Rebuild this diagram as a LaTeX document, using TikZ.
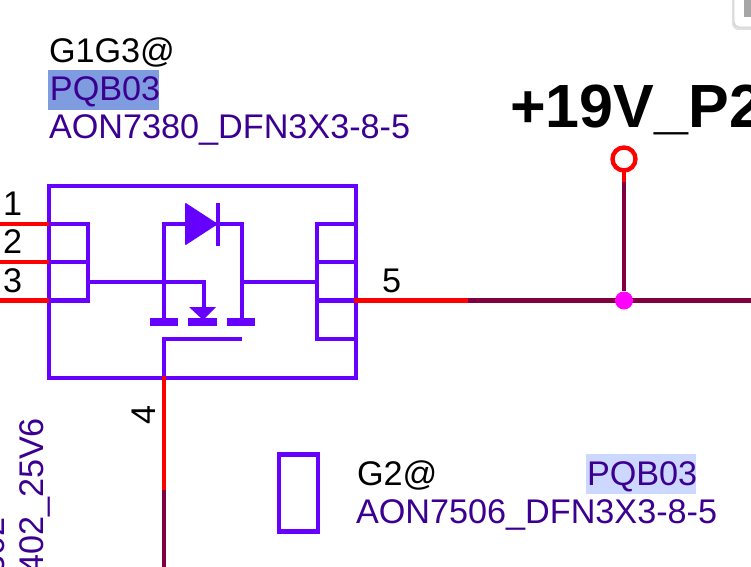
\documentclass[tikz,border=0pt]{standalone}
\usepackage{fontspec}
\setmainfont{Liberation Sans}
\definecolor{symbolblue}{HTML}{6600FF}
\definecolor{partblue}{HTML}{3C0090}
\definecolor{netmaroon}{HTML}{800040}
\definecolor{joinpink}{HTML}{FF00FF}
\definecolor{markdark}{HTML}{7F9CE0}
\definecolor{marklight}{HTML}{CCD8FF}
\begin{document}
\begin{tikzpicture}[
		x=0.75pt,
		y=-0.75pt,
		symbol/.style={
			draw=symbolblue,
			line width=3.3pt,
			line cap=butt
		},
		bar/.style={
			symbol,
			line width=6pt
		},
		pinwire/.style={
			draw=red,
			line width=3.3pt
		},
		netwire/.style={
			draw=netmaroon,
			line width=3.3pt
		},
		attrib/.style={
			anchor=base west,
			inner sep=0pt,
			outer sep=0pt,
			font=\fontsize{25.65}{30}\selectfont
		},
		partval/.style={
			attrib,
			text=partblue
		},
		pinnum/.style={
			attrib,
			text=black
		},
		markbox/.style={
			rectangle,
			inner sep=0pt,
			outer sep=0pt
		}
		]
		\path [use as bounding box, clip] (0,0) rectangle (751,567);
		\fill [white] (0,0) rectangle (751,567);
		
		% corner of the window control
		\fill [black!12, rounded corners=5pt] (732,-10) rectangle (760,30);
		\filldraw [draw=black!18, fill=white, line width=0.6pt, rounded corners=4pt] (734,-10) rectangle (760,27);
		\fill [black!35] (744,-5) rectangle (760,17);
		
		% part box and the pin coordinates
		\node [symbol, rectangle, inner sep=0pt, outer sep=0pt, minimum width=230.25pt, minimum height=144pt] (pqbbox) at (202.5,282) {};
		
		\coordinate (pin1in) at (49,224);
		\coordinate (pin2in) at (49,262);
		\coordinate (pin3in) at (49,300.5);
		\coordinate (pin1end) at (0,224);
		\coordinate (pin2end) at (0,262);
		\coordinate (pin3end) at (0,300.5);
		\coordinate (pin4in) at (164,376);
		\coordinate (pin4mid) at (164,490);
		\coordinate (pin4end) at (164,567);
		\coordinate (pin5in) at (354,300.5);
		\coordinate (pin5mid) at (468,300.5);
		\coordinate (netend) at (751,300.5);
		
		% left comb
		\draw [symbol] (pin1in) -- (88,224) -- (88,300.5) -- (pin3in);
		\draw [symbol] (pin2in) -- (88,262);
		\draw [symbol] (88,282) -- (204,282) -- (204,309);
		
		% right comb
		\draw [symbol] (356,224) -- (317,224) -- (317,339) -- (356,339);
		\draw [symbol] (317,262) -- (356,262);
		\draw [symbol] (317,300.5) -- (356,300.5);
		\draw [symbol] (242,282) -- (317,282);
		
		% transistor with the diode above it
		\draw [symbol] (164,322) -- (164,224) -- (242,224) -- (242,322);
		\draw [bar] (150,322) -- (178,322);
		\draw [bar] (188,322) -- (217,322);
		\draw [bar] (227,322) -- (255,322);
		\fill [symbolblue] (189,307) -- (216,307) -- (203,320) -- cycle;
		\fill [symbolblue, rounded corners=0.8pt] (185,202.5) -- (218,224) -- (185,245.5) -- cycle;
		\draw [symbol] (218,203) -- (218,246);
		\draw [symbol] (242,339) -- (164,339) -- (164,378);
		
		% wires
		\draw [pinwire] (pin1end) -- (pin1in);
		\draw [pinwire] (pin2end) -- (pin2in);
		\draw [pinwire] (pin3end) -- (pin3in);
		\draw [pinwire] (pin4in) -- (pin4mid);
		\draw [netwire] (pin4mid) -- (pin4end);
		\draw [pinwire] (pin5in) -- (pin5mid);
		\draw [netwire] (pin5mid) -- (netend);
		
		% supply rail
		\node [circle, fill=joinpink, inner sep=0pt, minimum size=13.5pt] (railjoin) at (624,300.5) {};
		\node [circle, draw=red, line width=3.3pt, fill=white, inner sep=0pt, outer sep=1.5pt, minimum size=17.25pt] (railring) at (624,159) {};
		\coordinate (railstem) at (624,182);
		\draw [netwire] (railjoin) -- (railstem);
		\draw [pinwire] (railstem) -- (railring);
		\node [anchor=base west, inner sep=0pt, font=\fontsize{45.75}{50}\selectfont\bfseries] (railname) at (510,128) {+19V\_P2};
		
		% pin numbers
		\node [pinnum] (num1) at (3,215) {1};
		\node [pinnum] (num2) at (3,253) {2};
		\node [pinnum] (num3) at (3,292) {3};
		\node [pinnum] (num5) at (382,292) {5};
		\node [pinnum, rotate=90] (num4) at (155,424) {4};
		
		% first part
		\node [markbox, fill=markdark, minimum width=83.25pt, minimum height=30pt] (markone) at (103.5,90) {};
		\node [pinnum] (ruleone) at (49,63) {G1G3@};
		\node [partval] (refone) at (50,101) {PQB03};
		\node [partval] (valone) at (49,139) {AON7380\_DFN3X3-8-5};
		
		% second part
		\node [symbol, rectangle, inner sep=0pt, outer sep=0pt, minimum width=29.25pt, minimum height=57.75pt] (pqbtwo) at (298.5,493) {};
		\node [markbox, fill=marklight, minimum width=82.5pt, minimum height=30pt] (marktwo) at (641,474) {};
		\node [pinnum] (ruletwo) at (357,485) {G2@};
		\node [partval] (reftwo) at (587,485) {PQB03};
		\node [partval] (valtwo) at (356,523) {AON7506\_DFN3X3-8-5};
		
		% neighbouring part values, cut by the edge
		\node [partval, anchor=base east, rotate=90] (sideval) at (43,418) {402\_25V6};
		\node [partval, anchor=base east, rotate=90] (sideref) at (5,517) {302};
		
		\end{tikzpicture}
\end{document}
